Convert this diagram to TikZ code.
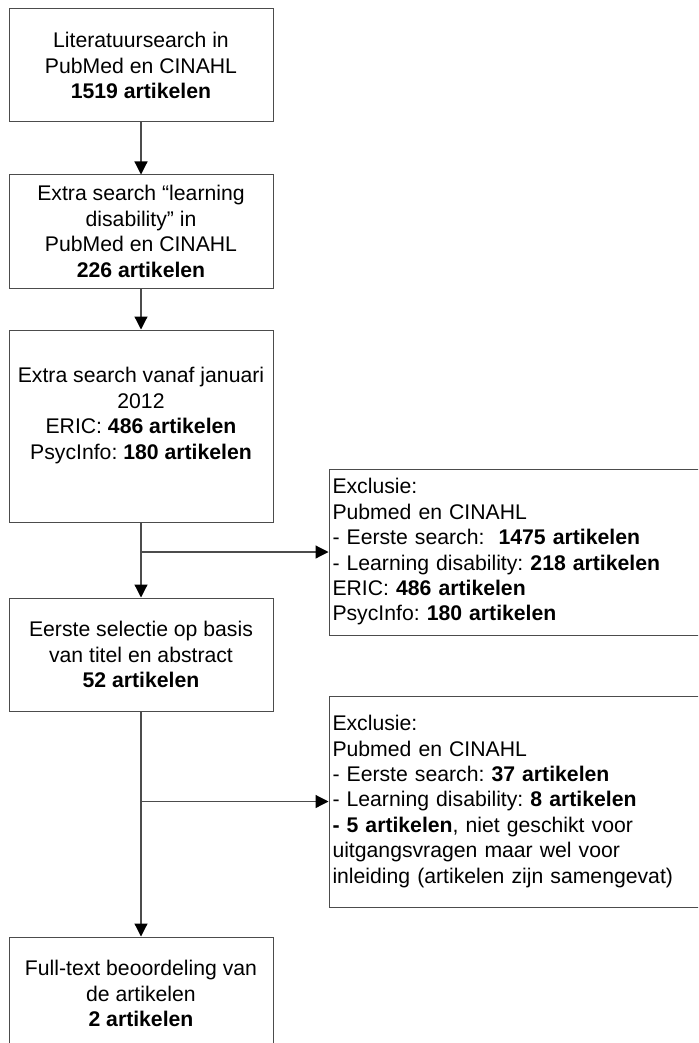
\documentclass[tikz,border=0pt]{standalone}
\usepackage{fontspec}
\setmainfont{Liberation Sans}
\usetikzlibrary{arrows.meta, positioning}
\colorlet{lGray}{black!70}
\frenchspacing

\begin{document}
\begin{tikzpicture}[x=0.5pt, y=-0.5pt,
      every node/.style={font=\fontsize{10.6}{12.7}\selectfont},
      box/.style={draw=lGray, line width=0.5pt, minimum width=132pt,
                  minimum height=56.5pt, align=center, inner sep=1pt},
      excl/.style={draw=lGray, line width=0.5pt, text width=183pt,
                   align=left, inner xsep=1.75pt, inner ysep=1pt},
      arr/.style={lGray, line width=0.6pt,
                  -{Triangle[length=6.5pt, width=6.5pt, color=black]}}]
    \clip (0,0) rectangle (698,1043);
    \node[box] (b1) at (141,65.5)  {Literatuursearch in\\PubMed en CINAHL\\\textbf{1519 artikelen}};
    \node[box] (b2) at (141,231.5) {Extra search “learning\\disability” in\\PubMed en CINAHL\\\textbf{226 artikelen}};
    \node[box, minimum height=96pt] (b3) at (141,426)
      {Extra search vanaf januari\\2012\\ERIC: \textbf{486 artikelen}\\PsycInfo: \textbf{180 artikelen}\\\mbox{}};
    \node[box] (b4) at (141,654.5) {Eerste selectie op basis\\van titel en abstract\\\textbf{52 artikelen}};
    \node[box] (b5) at (141,993.5) {Full-text beoordeling van\\de artikelen\\\textbf{2 artikelen}};
    \node[excl, minimum height=83pt] (x1) at (515.5,552)
      {Exclusie:\\Pubmed en CINAHL\\- Eerste search:~ \textbf{1475 artikelen}\\- Learning disability: \textbf{218 artikelen}\\ERIC: \textbf{486 artikelen}\\PsycInfo: \textbf{180 artikelen}};
    \node[excl, minimum height=105.5pt] (x2) at (515.5,801.5)
      {Exclusie:\\Pubmed en CINAHL\\- Eerste search: \textbf{37 artikelen}\\- Learning disability: \textbf{8 artikelen}\\\textbf{- 5 artikelen}, niet geschikt voor\\uitgangsvragen maar wel voor\\inleiding (artikelen zijn samengevat)};
    \coordinate (j1) at (141,552);
    \coordinate (j2) at (141,801.5);
    \draw[arr] (b1) -- (b2);
    \draw[arr] (b2) -- (b3);
    \draw[arr] (b3) -- (b4);
    \draw[arr] (b4) -- (b5);
    \draw[arr] (j1) -- (x1);
    \draw[arr] (j2) -- (x2);
  \end{tikzpicture}
\end{document}
